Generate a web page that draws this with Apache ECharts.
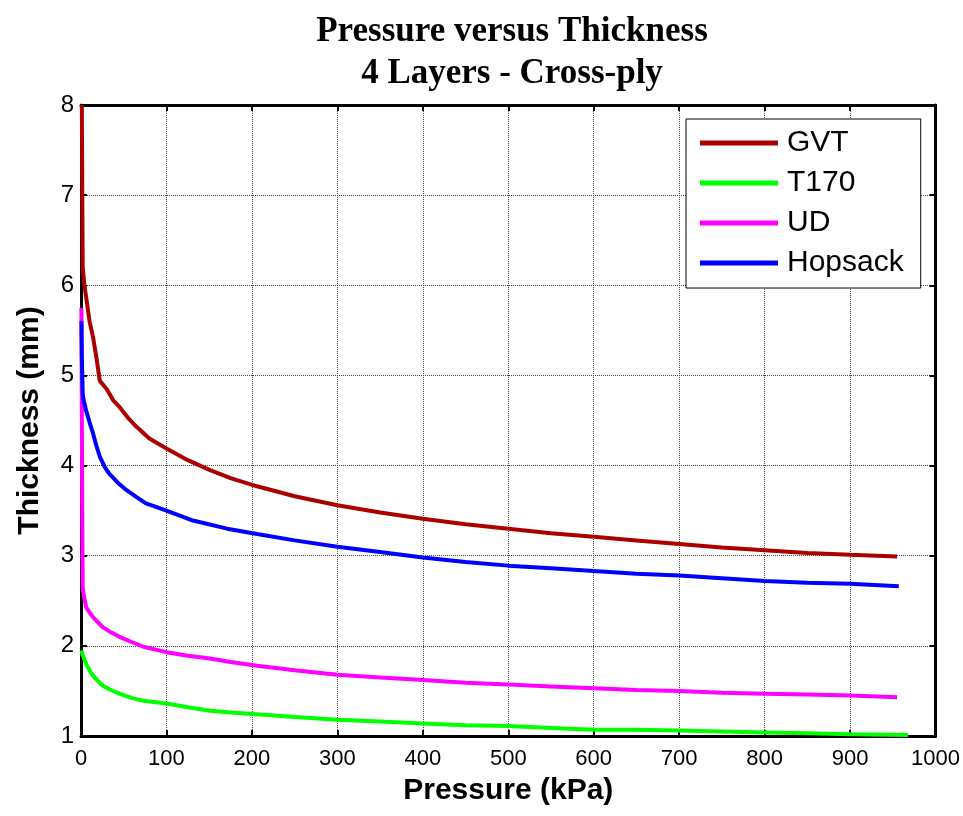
<!DOCTYPE html>
<html>
<head>
<meta charset="utf-8">
<script src="https://cdn.jsdelivr.net/npm/echarts@6/dist/echarts.min.js"></script>
<style>html,body{margin:0;padding:0;background:#fff;overflow:hidden;}#c{width:963px;height:816px;}</style>
</head>
<body>
<div id="c"></div>
<script>
var xTicks = [0, 100, 200, 300, 400, 500, 600, 700, 800, 900, 1000];
var yTicks = [1, 2, 3, 4, 5, 6, 7, 8];
var seriesNames = ['GVT', 'T170', 'UD', 'Hopsack'];

var gvtP = [1, 1.5, 2, 3, 4, 6, 10, 14, 18, 22, 30, 38, 45, 55, 65, 80, 100, 125, 151, 175, 206, 250, 300, 350, 400, 450, 500, 550, 600, 650, 700, 750, 800, 850, 900, 955];
var gvtT = [8.0, 7.0, 6.2, 6.1, 6.0, 5.87, 5.6, 5.43, 5.2, 4.94, 4.85, 4.72, 4.65, 4.53, 4.43, 4.3, 4.19, 4.06, 3.95, 3.86, 3.77, 3.66, 3.56, 3.48, 3.41, 3.35, 3.30, 3.25, 3.21, 3.17, 3.13, 3.09, 3.06, 3.03, 3.01, 2.99];

var t170P = [0.5, 2, 6, 10, 14, 20, 25, 35, 45, 60, 73, 100, 125, 151, 175, 206, 250, 300, 350, 400, 450, 500, 550, 600, 650, 700, 750, 800, 850, 900, 968];
var t170T = [1.95, 1.9, 1.80, 1.73, 1.67, 1.61, 1.56, 1.51, 1.47, 1.42, 1.39, 1.36, 1.32, 1.28, 1.26, 1.24, 1.21, 1.18, 1.16, 1.14, 1.12, 1.11, 1.09, 1.07, 1.07, 1.06, 1.05, 1.04, 1.03, 1.02, 1.01];

var udP = [0.5, 1, 1.5, 2, 3, 6, 10, 14, 20, 25, 35, 45, 60, 73, 100, 125, 151, 175, 206, 250, 300, 350, 400, 450, 500, 550, 600, 650, 700, 750, 800, 850, 900, 955];
var udT = [5.75, 4.5, 3.4, 2.65, 2.58, 2.43, 2.37, 2.32, 2.26, 2.21, 2.15, 2.10, 2.04, 1.99, 1.93, 1.89, 1.86, 1.82, 1.78, 1.73, 1.68, 1.65, 1.62, 1.59, 1.57, 1.55, 1.53, 1.51, 1.50, 1.48, 1.47, 1.46, 1.45, 1.43];

var hopP = [0.5, 1, 2, 3, 6, 10, 14, 18, 22, 28, 33, 43, 53, 65, 76, 100, 131, 171, 206, 250, 300, 350, 400, 450, 500, 550, 600, 650, 700, 750, 800, 850, 900, 957];
var hopT = [5.6, 5.2, 4.8, 4.73, 4.61, 4.48, 4.36, 4.22, 4.10, 3.98, 3.91, 3.81, 3.73, 3.65, 3.58, 3.50, 3.39, 3.30, 3.24, 3.17, 3.10, 3.04, 2.98, 2.93, 2.89, 2.86, 2.83, 2.80, 2.78, 2.75, 2.72, 2.70, 2.69, 2.66];

function pairs(p, t) { return p.map(function (v, i) { return [v, t[i]]; }); }

var colors = ['#aa0000', '#00ff00', '#ff00ff', '#0000ff'];
var dataSets = [pairs(gvtP, gvtT), pairs(t170P, t170T), pairs(udP, udT), pairs(hopP, hopT)];

var chart = echarts.init(document.getElementById('c'));
var axisFont = 'Liberation Sans, Arial, sans-serif';

function xAx(pos, showLab) {
  return {
    type: 'value', position: pos, min: xTicks[0], max: xTicks[xTicks.length - 1], interval: 100,
    axisLine: { show: true, onZero: false, lineStyle: { color: '#000', width: 3 } },
    axisTick: { show: true, inside: true, length: 6, lineStyle: { color: '#000', width: 2 } },
    axisLabel: { show: showLab, color: '#000', fontSize: 22, fontFamily: axisFont, margin: 12,
      formatter: function (v) { return String(v); } },
    splitLine: { show: showLab, lineStyle: { color: '#444', type: 'dotted', width: 1 } },
    name: showLab ? 'Pressure (kPa)' : '', nameLocation: 'middle', nameGap: 40,
    nameTextStyle: { color: '#000', fontSize: 30, fontWeight: 'bold', fontFamily: axisFont }
  };
}
function yAx(pos, showLab) {
  return {
    type: 'value', position: pos, min: yTicks[0], max: yTicks[yTicks.length - 1], interval: 1,
    axisLine: { show: true, onZero: false, lineStyle: { color: '#000', width: 3 } },
    axisTick: { show: true, inside: true, length: 6, lineStyle: { color: '#000', width: 2 } },
    axisLabel: { show: showLab, color: '#000', fontSize: 24, fontFamily: axisFont, margin: 7 },
    splitLine: { show: showLab, lineStyle: { color: '#444', type: 'dotted', width: 1 } },
    name: showLab ? 'Thickness (mm)' : '', nameLocation: 'middle', nameGap: 36, nameRotate: 90,
    nameTextStyle: { color: '#000', fontSize: 30, fontWeight: 'bold', fontFamily: axisFont }
  };
}

chart.setOption({
  animation: false,
  backgroundColor: '#fff',
  title: {
    text: 'Pressure versus Thickness\n4 Layers - Cross-ply',
    left: 507, top: 6, textAlign: 'center',
    textStyle: { fontFamily: 'Liberation Serif, Times New Roman, serif', fontWeight: 'bold', fontSize: 35, lineHeight: 42, color: '#000' }
  },
  grid: { left: 81, right: 18, top: 105, bottom: 80, containLabel: false },
  xAxis: [xAx('bottom', true), xAx('top', false)],
  yAxis: [yAx('left', true), yAx('right', false)],
  legend: {
    orient: 'vertical', left: 686, top: 119,
    data: seriesNames,
    icon: 'rect', itemWidth: 78, itemHeight: 5, itemGap: 10,
    padding: [9, 17, 10, 14],
    backgroundColor: '#fff', borderColor: '#000', borderWidth: 1,
    textStyle: { fontFamily: axisFont, fontSize: 30, color: '#000', lineHeight: 30, padding: [0, 0, 0, 4] }
  },
  series: seriesNames.map(function (n, i) {
    return {
      name: n, type: 'line', data: dataSets[i], showSymbol: false, symbol: 'none',
      xAxisIndex: 0, yAxisIndex: 0,
      lineStyle: { color: colors[i], width: 4 }, itemStyle: { color: colors[i] }
    };
  })
});
</script>
</body>
</html>
